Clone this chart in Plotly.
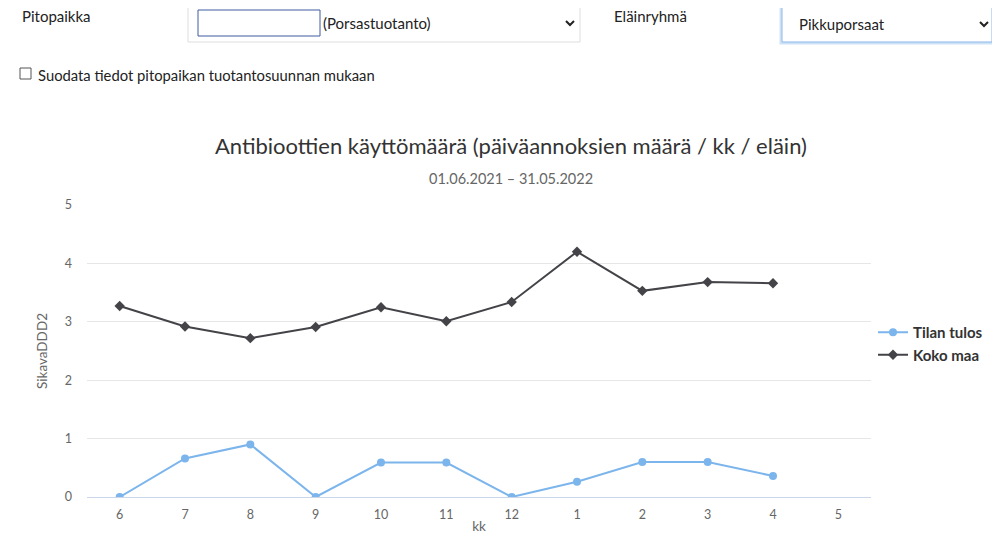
import plotly.graph_objects as go

months = ["6", "7", "8", "9", "10", "11", "12", "1", "2", "3", "4", "5"]
tilan_tulos = [0.0, 0.66, 0.90, 0.0, 0.59, 0.59, 0.0, 0.26, 0.60, 0.60, 0.36, None]
koko_maa = [3.27, 2.92, 2.72, 2.91, 3.25, 3.01, 3.34, 4.20, 3.53, 3.68, 3.66, None]
y_ticks = [0, 1, 2, 3, 4, 5]

# the page keeps the browser's default 8px body margin on every side
OFF = 8
SW, SH = 1000, 542
W, H = SW - 2 * OFF, SH - 2 * OFF
L, R, T, B = 87, 871, 205, 497   # plot area in screen pixels
FONT = "Lato"


def px(x):
    return (x - L) / (R - L)


def py(y):
    return (B - y) / (B - T)


fig = go.Figure()
fig.add_trace(go.Scatter(
    x=months, y=tilan_tulos, name="Tilan tulos", mode="lines+markers",
    line=dict(color="#7cb5ec", width=2),
    marker=dict(symbol="circle", size=8, color="#7cb5ec"),
))
fig.add_trace(go.Scatter(
    x=months, y=koko_maa, name="Koko maa", mode="lines+markers",
    line=dict(color="#434348", width=2),
    marker=dict(symbol="diamond", size=8, color="#434348"),
))

shapes = []
annotations = []


def text(x, y, s, size=15, color="#222", xanchor="left"):
    annotations.append(dict(xref="paper", yref="paper", x=px(x), y=py(y), text=s,
                            showarrow=False, xanchor=xanchor, yanchor="middle",
                            font=dict(family=FONT, size=size, color=color)))


def rect(x0, y0, x1, y1, line="#cccccc", width=1, fill="white"):
    shapes.append(dict(type="rect", xref="paper", yref="paper",
                       x0=px(x0), x1=px(x1), y0=py(y0), y1=py(y1),
                       line=dict(color=line, width=width), fillcolor=fill, layer="above"))


def chevron(cx, cy):
    x0, x1, x2 = px(cx - 4), px(cx), px(cx + 4)
    y0, y1 = py(cy - 2), py(cy + 2)
    shapes.append(dict(type="path", xref="paper", yref="paper",
                       path=f"M {x0} {y0} L {x1} {y1} L {x2} {y0}",
                       line=dict(color="#222", width=2), layer="above"))


# Form controls above the chart
text(20, 16, "Pitopaikka")
rect(188, 5, 580, 42, line="#dddddd")
rect(198, 10, 320, 36, line="#3d5aa0")
text(321, 23, "(Porsastuotanto)")
chevron(570, 23)
text(612, 16, "Eläinryhmä")
rect(781, 5, 993, 43, line="#cfe3f7", width=3)
rect(782, 6, 992, 42, line="#8fb8e8")
text(797, 24, "Pikkuporsaat")
chevron(984, 24)
rect(20, 68, 31, 79, line="#555555")
text(36, 75, "Suodata tiedot pitopaikan tuotantosuunnan mukaan", size=14.8)

# Titles
text(511, 145, "Antibioottien käyttömäärä (päiväannoksien määrä / kk / eläin)",
     size=22, color="#333333", xanchor="center")
text(511, 178, "01.06.2021 – 31.05.2022", size=14.5, color="#666666", xanchor="center")

fig.update_layout(
    width=W, height=H, autosize=False,
    margin=dict(l=L - OFF, r=SW - OFF - R, t=T - OFF, b=SH - OFF - B, autoexpand=False),
    paper_bgcolor="white", plot_bgcolor="white",
    font=dict(family=FONT, color="#666666", size=12),
    showlegend=True,
    legend=dict(x=px(873), y=py(316), xanchor="left", yanchor="top",
                font=dict(family=FONT, size=15, color="#333333", weight="bold"),
                bgcolor="rgba(0,0,0,0)", tracegroupgap=0, itemwidth=30),
    shapes=shapes, annotations=annotations,
    xaxis=dict(type="category", categoryorder="array", categoryarray=months,
               range=[-0.5, len(months) - 0.5], showgrid=False, zeroline=False,
               showline=True, linecolor="#ccd6eb", linewidth=1, ticks="",
               ticklabelstandoff=6, automargin=True,
               tickfont=dict(size=12.5, color="#666666"),
               title=dict(text="kk", font=dict(size=13.5, color="#666666"), standoff=7)),
    yaxis=dict(range=[0, 5], tickvals=y_ticks, showgrid=True, gridcolor="#e6e6e6",
               zeroline=False, showline=False, ticks="", automargin=False,
               tickfont=dict(size=12.5, color="#666666"),
               ticklabelstandoff=14,
               title=dict(text="SikavaDDD2", font=dict(size=13.5, color="#666666"), standoff=14)),
)

fig.write_html("out.html")
